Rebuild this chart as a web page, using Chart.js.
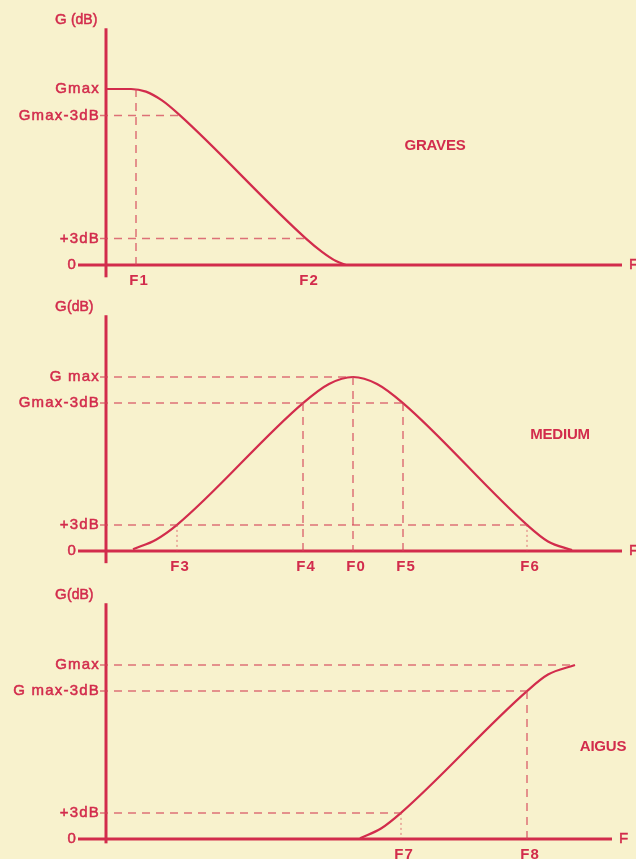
<!DOCTYPE html>
<html>
<head>
<meta charset="utf-8">
<script src="https://cdn.jsdelivr.net/npm/chart.js@4.4.1/dist/chart.umd.min.js"></script>
<style>
  html, body { margin: 0; padding: 0; background: #f8f2cd; }
  body { width: 636px; height: 859px; position: relative; overflow: hidden; }
  canvas { position: absolute; left: 0; }
</style>
</head>
<body>
<canvas id="c1" width="636" height="287" style="top:0px;width:636px;height:287px"></canvas>
<canvas id="c2" width="636" height="288" style="top:287px;width:636px;height:288px"></canvas>
<canvas id="c3" width="636" height="284" style="top:575px;width:636px;height:284px"></canvas>
<script>
// ---------------- DATA ----------------
const yTickValues = [0, 3, 17, 20];
const gravesYLabels = ["0", "+3dB", "Gmax-3dB", "Gmax"];
const mediumYLabels = ["0", "+3dB", "Gmax-3dB", "G max"];
const aigusYLabels  = ["0", "+3dB", "G max-3dB", "Gmax"];

const gravesXTicks  = [3, 20];
const gravesXLabels = ["F1", "F2"];
const mediumXTicks  = [7.1, 19.7, 24.7, 29.7, 42.1];
const mediumXLabels = ["F3", "F4", "F0", "F5", "F6"];
const aigusXTicks   = [29.5, 42.1];
const aigusXLabels  = ["F7", "F8"];

// response curves (frequency units, gain dB)
const gravesCurve = [[0,20],[2.5,20],[4,19.7],[5.6,18.7],[7.4,17],[20,3],[21.6,1.5],[23,0.45],[24,0]];
const mediumCurve = [[2.7,0.2],[5,1.3],[7.1,3],[19.7,17],[22.3,19.2],[24.7,20],[27.1,19.2],[29.7,17],[42.1,3],[44.2,1.1],[46.6,0.1]];
const aigusCurve  = [[25.4,0.1],[27.5,1.2],[29.5,3],[42.1,17],[44.2,18.9],[46.9,20]];

// dashed reference lines [[x1,y1],[x2,y2]]
const gravesGuides = [
  [[-0.6,17],[7.4,17]], [[-0.6,3],[20,3]], [[3,20],[3,0]]
];
const mediumGuides = [
  [[-0.6,20],[24.7,20]], [[-0.6,17],[29.7,17]], [[-0.6,3],[42.1,3]],
  [[19.7,17],[19.7,0]], [[24.7,20],[24.7,0]], [[29.7,17],[29.7,0]]
];
const mediumDotted = [ [[7.1,3],[7.1,0]], [[42.1,3],[42.1,0]] ];
const aigusGuides = [
  [[-0.6,20],[46.9,20]], [[-0.6,17],[42.1,17]], [[-0.6,3],[29.5,3]],
  [[42.1,17],[42.1,0]]
];
const aigusDotted = [ [[29.5,3],[29.5,0]] ];

const gravesAxes = { x: [[-2.8,0],[51.6,0]], y: [[0,-1.4],[0,26.9]] };
const mediumAxes = { x: [[-2.8,0],[51.6,0]], y: [[0,-1.4],[0,27.1]] };
const aigusAxes  = { x: [[-2.8,0],[50.6,0]], y: [[0,-0.5],[0,27.1]] };

const panelNames = ["GRAVES", "MEDIUM", "AIGUS"];
const panelNamePos = [[32.9,13.5],[45.4,13.3],[49.7,10.6]];

// ---------------- STYLE / LAYOUT ----------------
const RED = '#d22c4c';
const DASH = 'rgba(212,70,90,0.75)';
const FONT = '"Liberation Sans", Arial, sans-serif';

function pts(arr){ return arr.map(p => ({x:p[0], y:p[1]})); }

function lineDs(arr, color, width, dash){
  return { data: pts(arr), borderColor: color, borderWidth: width, borderDash: dash || [],
           pointRadius: 0, tension: 0, fill: false, clip: false };
}

function txt(ctx, s, x, y, stroke){
  ctx.fillText(s, x, y);
  if (stroke) { ctx.lineWidth = stroke; ctx.strokeText(s, x, y); }
}
function spacing(ctx, v){ try { ctx.letterSpacing = v; } catch(e) {} }

const labelPlugin = {
  id: 'labels',
  afterDatasetsDraw(chart) {
    const o = chart.options.plugins.labels;
    const xs = chart.scales.x, ys = chart.scales.y;
    const ctx = chart.ctx;
    const ax = xs.getPixelForValue(0), ay = ys.getPixelForValue(0);
    ctx.save();
    ctx.fillStyle = RED;
    ctx.strokeStyle = RED;
    // y tick labels
    spacing(ctx, '1.2px');
    ctx.font = '15px ' + FONT;
    ctx.textAlign = 'right';
    ctx.textBaseline = 'middle';
    o.yVals.forEach((v, i) => {
      const x = v === 0 ? xs.getPixelForValue(o.xStart) - 1 : ax - 6;
      txt(ctx, o.yLabels[i], x, ys.getPixelForValue(v), 0.5);
    });
    // x tick labels
    spacing(ctx, '1px');
    ctx.font = 'bold 15px ' + FONT;
    ctx.textAlign = 'center';
    ctx.textBaseline = 'top';
    o.xVals.forEach((u, i) => {
      txt(ctx, o.xLabels[i], xs.getPixelForValue(u) + 3, ay + 8, 0);
    });
    // axis titles
    spacing(ctx, '0px');
    ctx.textAlign = 'left';
    ctx.textBaseline = 'alphabetic';
    const top = ys.getPixelForValue(o.yTop);
    ctx.font = '15px ' + FONT;
    txt(ctx, 'G', ax - 51, top - 4, 0.5);
    ctx.font = '14px ' + FONT;
    txt(ctx, o.gap ? ' (dB)' : '(dB)', ax - 39, top - 4, 0.5);
    ctx.font = '15px ' + FONT;
    ctx.textBaseline = 'middle';
    txt(ctx, 'F', xs.getPixelForValue(o.xEnd) + 7, ay, 0.5);
    // panel name
    ctx.font = 'bold 15px ' + FONT;
    ctx.textAlign = 'center';
    spacing(ctx, '-0.2px');
    txt(ctx, o.name, xs.getPixelForValue(o.namePos[0]), ys.getPixelForValue(o.namePos[1]), 0);
    ctx.restore();
  }
};

// pixel mapping: x px = 106 + 10*u ; y px(local) = y0 - k*v
function makeChart(id, height, y0, k, cfg){
  const xMin = -106/10, xMax = (636-106)/10;
  const yMax = y0 / k, yMin = -(height - y0) / k;
  const datasets = [];
  cfg.guides.forEach(g => datasets.push(lineDs(g, DASH, 1.5, [8,6])));
  (cfg.dotted || []).forEach(g => datasets.push(lineDs(g, DASH, 1, [2,3])));
  datasets.push(lineDs(cfg.axes.x, RED, 3));
  datasets.push(lineDs(cfg.axes.y, RED, 3));
  datasets.push(Object.assign(lineDs(cfg.curve, RED, 2.2), { cubicInterpolationMode: 'monotone' }));
  return new Chart(document.getElementById(id), {
    type: 'line',
    data: { datasets },
    options: {
      responsive: false, animation: false, devicePixelRatio: 1,
      layout: { padding: 0 },
      scales: {
        x: { type: 'linear', min: xMin, max: xMax, display: false },
        y: { type: 'linear', min: yMin, max: yMax, display: false }
      },
      plugins: {
        legend: { display: false }, tooltip: { enabled: false },
        labels: {
          yVals: yTickValues, yLabels: cfg.yLabels,
          xVals: cfg.xTicks, xLabels: cfg.xLabels,
          yTop: cfg.axes.y[1][1], xEnd: cfg.axes.x[1][0], xStart: cfg.axes.x[0][0],
          name: cfg.name, namePos: cfg.namePos, gap: cfg.gap
        }
      }
    },
    plugins: [labelPlugin]
  });
}

makeChart('c1', 287, 265, 8.8, {
  guides: gravesGuides, axes: gravesAxes, curve: gravesCurve,
  yLabels: gravesYLabels, xTicks: gravesXTicks, xLabels: gravesXLabels,
  name: panelNames[0], namePos: panelNamePos[0], gap: true
});
makeChart('c2', 288, 264, 8.7, {
  guides: mediumGuides, dotted: mediumDotted, axes: mediumAxes, curve: mediumCurve,
  yLabels: mediumYLabels, xTicks: mediumXTicks, xLabels: mediumXLabels,
  name: panelNames[1], namePos: panelNamePos[1], gap: false
});
makeChart('c3', 284, 264, 8.7, {
  guides: aigusGuides, dotted: aigusDotted, axes: aigusAxes, curve: aigusCurve,
  yLabels: aigusYLabels, xTicks: aigusXTicks, xLabels: aigusXLabels,
  name: panelNames[2], namePos: panelNamePos[2], gap: false
});
</script>
</body>
</html>
